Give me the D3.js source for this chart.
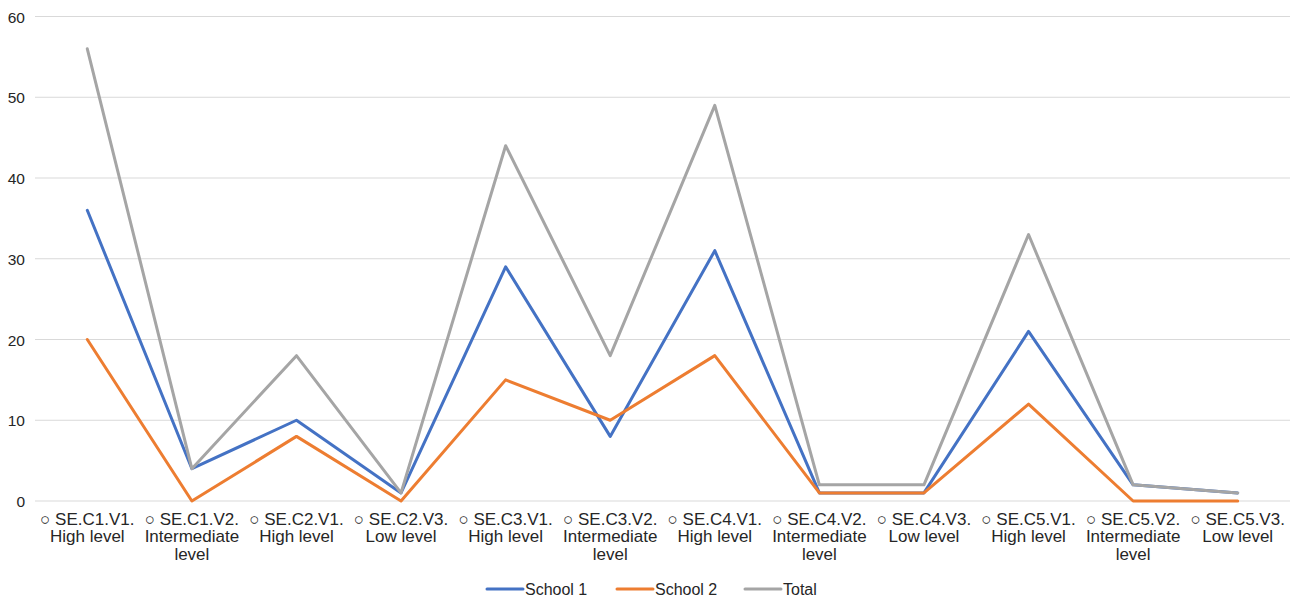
<!DOCTYPE html>
<html>
<head>
<meta charset="utf-8">
<script src="https://cdn.jsdelivr.net/npm/d3@7"></script>
<style>
  html, body { margin: 0; padding: 0; background: #fff; }
  svg { display: block; font-family: "Liberation Sans", Arial, Helvetica, sans-serif; }
</style>
</head>
<body>
<svg id="chart" width="1292" height="599"></svg>
<script>
const categories = [
  "○ SE.C1.V1. High level",
  "○ SE.C1.V2. Intermediate level",
  "○ SE.C2.V1. High level",
  "○ SE.C2.V3. Low level",
  "○ SE.C3.V1. High level",
  "○ SE.C3.V2. Intermediate level",
  "○ SE.C4.V1. High level",
  "○ SE.C4.V2. Intermediate level",
  "○ SE.C4.V3. Low level",
  "○ SE.C5.V1. High level",
  "○ SE.C5.V2. Intermediate level",
  "○ SE.C5.V3. Low level"
];
const school1 = [36, 4, 10, 1, 29, 8, 31, 1, 1, 21, 2, 1];
const school2 = [20, 0, 8, 0, 15, 10, 18, 1, 1, 12, 0, 0];
const total   = [56, 4, 18, 1, 44, 18, 49, 2, 2, 33, 2, 1];
const yTicks  = [0, 10, 20, 30, 40, 50, 60];
const seriesNames = ["School 1", "School 2", "Total"];
const seriesColors = ["#4472C4", "#ED7D31", "#A5A5A5"];

const series = [school1, school2, total].map((vals, i) => ({
  name: seriesNames[i], color: seriesColors[i], values: vals
}));

const svg = d3.select("#chart");
const margin = { left: 35, right: 2, top: 16, bottom: 98 };
const W = 1292, H = 599;

const x = d3.scaleBand().domain(categories).range([margin.left, W - margin.right]).padding(0);
const y = d3.scaleLinear().domain([0, 60]).range([501, 16.5]);

// gridlines
svg.append("g")
  .selectAll("line")
  .data(yTicks)
  .join("line")
  .attr("x1", margin.left)
  .attr("x2", W - margin.right)
  .attr("y1", d => y(d))
  .attr("y2", d => y(d))
  .attr("stroke", "#d9d9d9")
  .attr("stroke-width", 1);

// y axis labels
const yAxis = d3.axisLeft(y).tickValues(yTicks).tickSize(0).tickPadding(0);
const yg = svg.append("g").attr("transform", "translate(25,0)").call(yAxis);
yg.select(".domain").remove();
yg.selectAll("text")
  .attr("font-size", 15.5)
  .attr("fill", "#262626")
  .attr("font-family", "'Liberation Sans', Arial, sans-serif")
  .attr("dy", "0.36em");

// x axis labels with wrapping
const xAxis = d3.axisBottom(x).tickSize(0).tickPadding(0).tickFormat(() => "");
const xg = svg.append("g").attr("transform", `translate(0,${y(0)})`).call(xAxis);
xg.select(".domain").remove();

const labelSize = 17;
function wrapLines(str, maxW, fontSize) {
  const words = str.split(" ");
  const ctx = document.createElement("canvas").getContext("2d");
  ctx.font = `${fontSize}px 'Liberation Sans', Arial, sans-serif`;
  const lines = [];
  let cur = "";
  words.forEach(w => {
    const test = cur ? cur + " " + w : w;
    if (ctx.measureText(test).width > maxW && cur) {
      lines.push(cur); cur = w;
    } else cur = test;
  });
  if (cur) lines.push(cur);
  return lines;
}

xg.selectAll(".tick").each(function(d) {
  const t = d3.select(this).select("text");
  t.text(null)
    .attr("y", 0)
    .attr("dy", null)
    .attr("font-size", labelSize)
    .attr("fill", "#262626")
    .attr("font-family", "'Liberation Sans', Arial, sans-serif")
    .attr("text-anchor", "middle");
  const lines = wrapLines(d, x.bandwidth() - 2, labelSize);
  lines.forEach((ln, i) => {
    t.append("tspan").attr("x", 0).attr("y", 24 + i * 17.3).text(ln);
  });
});

// lines
const line = d3.line()
  .x((d, i) => x(categories[i]) + x.bandwidth() / 2)
  .y(d => y(d));

svg.append("g")
  .selectAll("path")
  .data(series)
  .join("path")
  .attr("d", s => line(s.values))
  .attr("fill", "none")
  .attr("stroke", s => s.color)
  .attr("stroke-width", 3)
  .attr("stroke-linejoin", "round")
  .attr("stroke-linecap", "round");

// legend
const legendPos = [487, 617, 745];
const lg = svg.append("g").attr("transform", "translate(0,589)");
series.forEach((s, i) => {
  const g = lg.append("g").attr("transform", `translate(${legendPos[i]},0)`);
  g.append("line").attr("x1", 0).attr("x2", 36).attr("y1", 0).attr("y2", 0)
    .attr("stroke", s.color).attr("stroke-width", 3).attr("stroke-linecap", "round");
  g.append("text").attr("x", 38).attr("y", 0).attr("dy", "0.36em")
    .attr("font-size", 16).attr("fill", "#262626").text(s.name);
});
</script>
</body>
</html>
